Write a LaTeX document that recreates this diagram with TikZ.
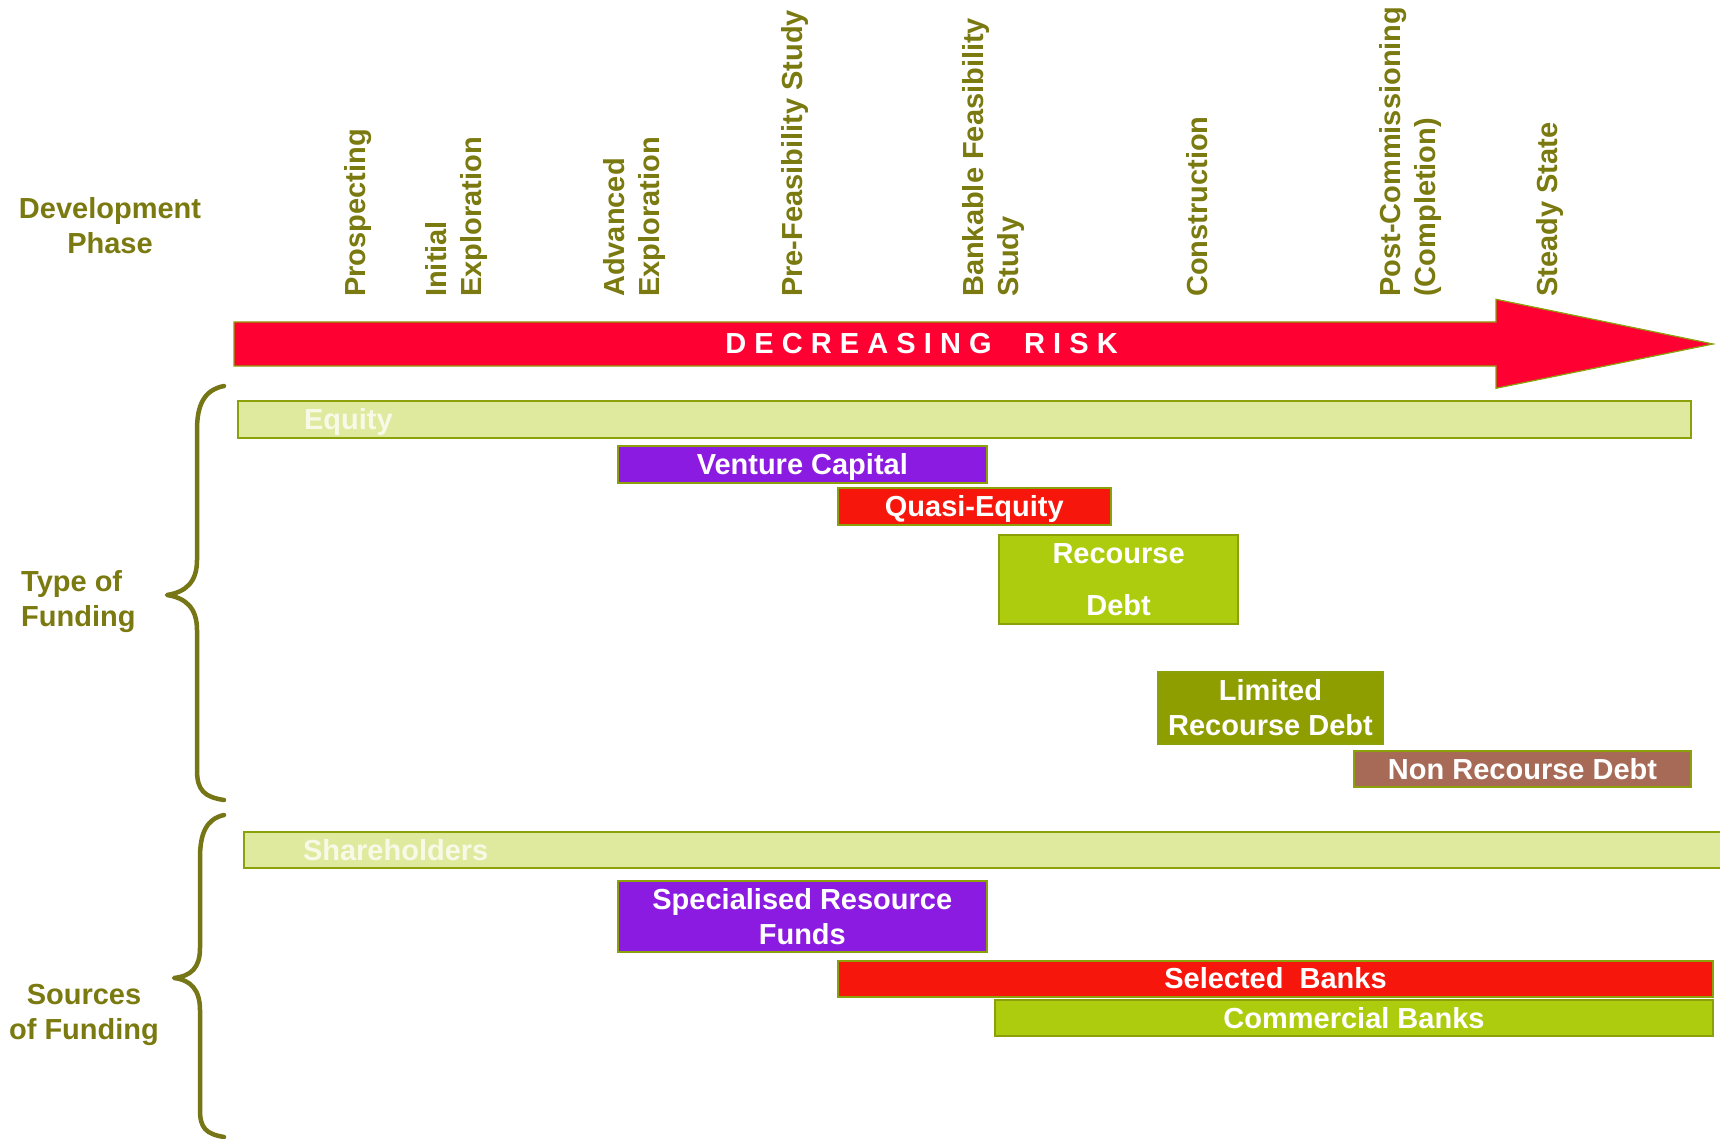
\documentclass[tikz,border=0pt]{standalone}
\usepackage{fontspec}
\setmainfont{Liberation Sans}
\usepackage{xcolor}

\definecolor{olivetext}{RGB}{122,122,16}
\definecolor{bracecol}{RGB}{118,118,22}
\definecolor{barline}{RGB}{140,160,10}
\definecolor{riskred}{RGB}{255,0,51}
\definecolor{paleleaf}{RGB}{223,234,159}
\definecolor{paletext}{RGB}{248,250,232}
\definecolor{venturevio}{RGB}{139,27,224}
\definecolor{bankred}{RGB}{246,22,11}
\definecolor{limegreen}{RGB}{174,204,14}
\definecolor{olivebox}{RGB}{142,158,0}
\definecolor{clayred}{RGB}{166,106,86}

\begin{document}
\begin{tikzpicture}[
    x=1pt, y=-1pt,
    every node/.style={font=\bfseries\fontsize{29}{35}\selectfont},
    heading/.style={text=olivetext, align=center, inner sep=0pt},
    phase/.style={text=olivetext, rotate=90, anchor=west, align=left, inner sep=0pt},
    bar/.style={draw=barline, line width=2pt, text=white, align=center, inner sep=0pt},
    onebar/.style={bar, text height=20pt, text depth=0pt},
    widebar/.style={onebar, fill=paleleaf, text=paletext, anchor=west, align=left},
    brace/.style={draw=bracecol, line width=4.5pt, line cap=round, line join=round}
  ]
  \useasboundingbox (0,0) rectangle (1720,1139);
  \fill[white] (0,0) rectangle (1720,1139);

  % left headings
  \node[heading] (devphase) at (110,226) {Development\\Phase};
  \node[heading, anchor=west, align=left] (fundtype) at (21,601.7) {Type of\\Funding};
  \node[heading] (fundsrc) at (84,1015) {Sources\\of Funding};

  % development phases
  \foreach \x/\nm/\txt in {358/prosp/Prospecting, 456/initexp/{Initial\\Exploration},
      634/advexp/{Advanced\\Exploration}, 795/prefeas/{Pre-Feasibility Study},
      993/bankfeas/{Bankable Feasibility\\Study}, 1197/constr/Construction,
      1410/postcomm/{Post-Commissioning\\(Completion)}, 1550/steady/{Steady State}}
    \node[phase] (ph-\nm) at (\x,297) {\txt};

  % risk arrow
  \filldraw[fill=riskred, draw=barline, line width=1.2pt]
    (234,322) -- (1496,322) -- (1496,299.3) -- (1713,344) -- (1496,388.3) -- (1496,366) -- (234,366) -- cycle;
  \node[text=white, font=\bfseries\fontsize{29}{35}\selectfont\addfontfeature{LetterSpace=28}] (risk) at (921.5,344) {DECREASING\ \ RISK};

  % braces
  \draw[brace] (224,386) .. controls (204,390) and (197,405) .. (197,430) -- (197,560)
    .. controls (197,582) and (186,592) .. (167,595) .. controls (186,598) and (197,608) .. (197,630)
    -- (197,770) .. controls (197,790) and (204,797) .. (224,800);
  \draw[brace] (224,815) .. controls (206,819) and (200,834) .. (200,858) -- (200,948)
    .. controls (200,968) and (191,976) .. (174,978) .. controls (191,980) and (200,990) .. (200,1010)
    -- (200,1110) .. controls (200,1128) and (206,1134) .. (224,1137);

  % type of funding
  \node[widebar, minimum height=36.5pt, text width=1321pt, inner xsep=66pt] (equity) at (237,419.4) {Equity};
  \node[onebar, fill=venturevio, minimum width=368.7pt, minimum height=36.7pt] (venture) at (802.3,464.3) {Venture Capital};
  \node[onebar, fill=bankred, minimum width=272.7pt, minimum height=37pt] (quasi) at (974.3,506.5) {Quasi-Equity};
  \node[bar, fill=limegreen, minimum width=239.7pt, minimum height=89.6pt] (recourse) at (1118.6,579.5) {Recourse\\[17pt]Debt};
  \node[bar, fill=olivebox, minimum width=224.3pt, minimum height=72pt] (limited) at (1270.5,708) {Limited\\Recourse Debt};
  \node[onebar, fill=clayred, minimum width=337pt, minimum height=36.6pt] (nonrec) at (1522.5,769) {Non Recourse Debt};

  % sources of funding
  \node[widebar, minimum height=36.6pt, text width=1369pt, inner xsep=59pt] (holders) at (243,850) {Shareholders};
  \node[bar, fill=venturevio, minimum width=368.7pt, minimum height=71.6pt] (srfunds) at (802.3,916.5) {Specialised Resource\\Funds};
  \node[onebar, fill=bankred, minimum width=875pt, minimum height=36pt] (selbanks) at (1275.5,978.7) {Selected\ \ Banks};
  \node[onebar, fill=limegreen, minimum width=718pt, minimum height=36pt] (combanks) at (1354,1018) {Commercial Banks};
\end{tikzpicture}
\end{document}
